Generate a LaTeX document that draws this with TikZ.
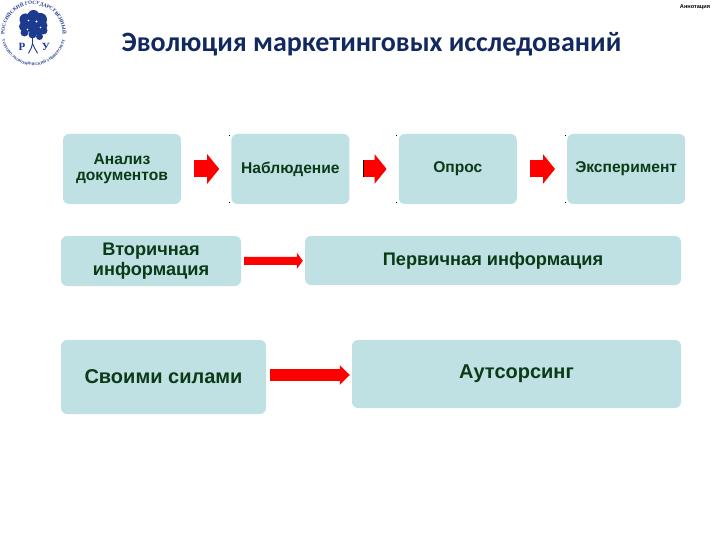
\documentclass[tikz,border=0pt]{standalone}
\usepackage{fontspec}
\setmainfont{Liberation Sans}
\newfontfamily\titlefont{Carlito}
\newfontfamily\logofont{Liberation Serif}
\usepackage{xcolor}
\usetikzlibrary{positioning,arrows.meta,decorations.text}
\definecolor{cBox}{HTML}{BFE1E3}
\definecolor{cText}{HTML}{0B3A17}
\definecolor{cTitle}{HTML}{12295F}
\definecolor{cLogo}{HTML}{1C3A8E}
\definecolor{cArrow}{HTML}{FF0000}
\tikzset{
  box/.style={rounded corners=6pt,fill=cBox,align=center,inner sep=0pt,text=cText,font=\bfseries\fontsize{15.6}{16.5}\selectfont},
  stepbox/.style={box,minimum width=118pt,minimum height=70pt},
  arr/.style={draw=cArrow,line width=17pt,-{Triangle[length=12pt,width=29pt,cArrow]},shorten <=13pt,shorten >=12pt},
  earr/.style={arr,{Bar[black,width=17pt,line width=1pt]}-{Triangle[length=12pt,width=29pt,cArrow]}},
  larr/.style={draw=cArrow,line width=8pt,-{Triangle[length=6pt,width=16pt,cArrow]},shorten <=3pt,shorten >=2pt},
  xarr/.style={draw=cArrow,line width=12pt,-{Triangle[length=10pt,width=19pt,cArrow]},shorten <=4pt,shorten >=2pt},
  speck/.style={fill=black,inner sep=0pt,minimum size=1pt}}
\begin{document}
\begin{tikzpicture}[x=1pt,y=-1pt,node distance=50pt]
\useasboundingbox (0,0) rectangle (720,540);
% heading
\node[text=cTitle,font=\titlefont\bfseries\fontsize{28}{32}\selectfont] (title) at (371.5,44) {Эволюция маркетинговых исследований};
\node[font=\bfseries\fontsize{5.6}{6}\selectfont] (tag) at (695,7) {Аннотация};
% first row
\node[stepbox] (doc) at (122,169) {Анализ\\документов};
\node[stepbox, right=of doc] (obs) {Наблюдение};
\node[stepbox, right=49pt of obs] (ask) {Опрос};
\node[stepbox, right=of ask] (exp) {Эксперимент};
\draw[arr] (doc)--(obs); \draw[earr] (obs)--(ask); \draw[arr] (ask)--(exp);
% second row
\node[box, minimum width=180pt, minimum height=50pt, font=\bfseries\fontsize{18.2}{20}\selectfont] (sec) at (151,261) {Вторичная\\информация};
\node[box, minimum width=376pt, minimum height=49pt, font=\bfseries\fontsize{18.2}{20}\selectfont] (pri) at (493,260.5) {Первичная информация};
\draw[larr] (sec)--(pri);
% third row
\node[box, minimum width=205pt, minimum height=74pt, font=\bfseries\fontsize{20}{22}\selectfont] (own) at (163.5,377) {Своими силами};
\node[box, minimum width=329pt, minimum height=68pt, font=\bfseries\fontsize{20}{22}\selectfont] (out) at (516.5,374) {Аутсорсинг};
\draw[xarr] ([yshift=2pt]own.east)--([yshift=-1pt]out.west);
% specks at the box corners
\foreach \n in {obs,ask,exp}{
  \node[speck] (\n tl) at ([shift={(-2,2)}]\n.north west) {};
  \node[speck] (\n bl) at ([shift={(-2,-2)}]\n.south west) {};
}
% seal
\begin{scope}[shift={(33.5,33.5)},y=1pt,cLogo]
\path[decorate,decoration={text along path,text align=center,text={|\logofont\bfseries\fontsize{5}{5}\selectfont\color{cLogo}|РОССИЙСКИЙ ГОСУДАРСТВЕННЫЙ}}] (185:29) arc[start angle=185,end angle=-5,radius=29pt];
\path[decorate,decoration={text along path,text align=center,text={|\logofont\bfseries\fontsize{3.8}{4}\selectfont\color{cLogo}|ТОРГОВО-ЭКОНОМИЧЕСКИЙ УНИВЕРСИТЕТ}}] (190:32) arc[start angle=190,end angle=350,radius=32pt];
\foreach \x/\y/\r in {-8/14/6,0/17.5/6,7/14/6.5,9/8/5,-10/7/4.5,-3/9/7.5,4/6/7.5,10/3/4,-9/1/4,-1/-1/4,6/-3/3.5}
  \fill (\x,\y) circle[radius=\r];
\fill[white] (3,12) circle[radius=1.1] (-5,13) circle[radius=.9] (7,6) circle[radius=.9] (-6,4) circle[radius=.8];
\draw[line width=1.8pt] (-1,-3)--(-1,-11);
\draw[line width=.9pt] (-5,-20) .. controls (-3,-15) and (-1,-14) .. (-1,-10) (4,-20) .. controls (2,-15) and (0,-14) .. (-1,-10);
\node[font=\logofont\bfseries\fontsize{11}{11}\selectfont] (letP) at (-11.5,-13.5) {Р};
\node[font=\logofont\bfseries\fontsize{11}{11}\selectfont] (letU) at (12.5,-13.5) {У};
\end{scope}
\end{tikzpicture}
\end{document}
